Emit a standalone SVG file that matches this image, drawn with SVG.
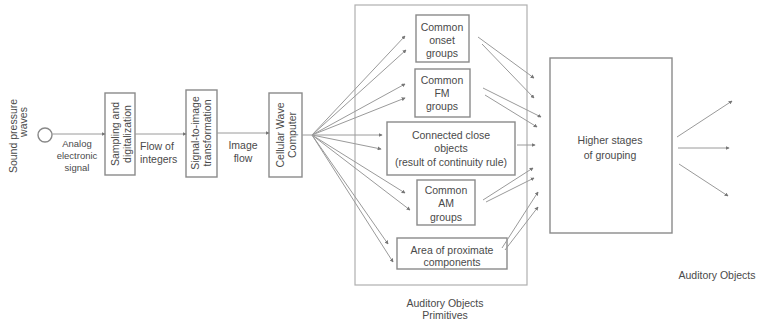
<svg xmlns="http://www.w3.org/2000/svg" width="758" height="324" viewBox="0 0 758 324">
<style>
.box{fill:#fff;stroke:#8a8a8a;stroke-width:1.4}
.frame{fill:none;stroke:#b0b0b0;stroke-width:1.2}
.ln{stroke:#9a9a9a;stroke-width:1;fill:none;marker-end:url(#ah)}
.t{font-family:"Liberation Sans",Arial,sans-serif;font-size:10.5px;fill:#4a4a4a;text-anchor:middle}
.ts{font-size:9.5px}
.tl{text-anchor:start}
</style>
<defs>
<marker id="ah" viewBox="0 0 6 6" refX="5" refY="3" markerWidth="4" markerHeight="4" orient="auto" markerUnits="userSpaceOnUse">
<path d="M0,0 L6,3 L0,6 z" fill="#777"/>
</marker>
</defs>
<rect width="758" height="324" fill="#fff"/>

<g id="sound-label">
<text class="t" transform="translate(17,136) rotate(-90)">Sound pressure</text>
<text class="t" transform="translate(27,122) rotate(-90)">waves</text>
</g>
<g id="source">
<circle cx="45" cy="135" r="7" fill="#fff" stroke="#888" stroke-width="1.4"/>
</g>
<g id="analog-label">
<text class="t ts" x="77" y="146.5">Analog</text>
<text class="t ts" x="77" y="158.5">electronic</text>
<text class="t ts" x="77" y="170.5">signal</text>
</g>
<g id="sampling">
<rect class="box" x="105" y="93" width="30" height="82"/>
<text class="t" transform="translate(119,134) rotate(-90)">Sampling and</text>
<text class="t" transform="translate(131,134) rotate(-90)">digitalization</text>
</g>
<g id="flow-label">
<text class="t tl" x="140" y="150">Flow of</text>
<text class="t tl" x="140" y="163">integers</text>
</g>
<g id="signal-to-image">
<rect class="box" x="186" y="90" width="31" height="87"/>
<text class="t" transform="translate(199,133) rotate(-90)">Signal-to-image</text>
<text class="t" transform="translate(211,133) rotate(-90)">transformation</text>
</g>
<g id="image-flow-label">
<text class="t" x="243" y="149">Image</text>
<text class="t" x="243" y="162">flow</text>
</g>
<g id="cwc">
<rect class="box" x="269" y="93" width="33" height="84"/>
<text class="t" transform="translate(284,135) rotate(-90)">Cellular Wave</text>
<text class="t" transform="translate(296,135) rotate(-90)">Computer</text>
</g>

<g id="primitives">
<rect class="frame" x="355" y="5" width="172" height="280"/>
<text class="t" x="445" y="307">Auditory Objects</text>
<text class="t" x="445" y="319">Primitives</text>
</g>
<g id="onset">
<rect class="box" x="416" y="15" width="53" height="47"/>
<text class="t" x="442" y="31">Common</text>
<text class="t" x="442" y="44">onset</text>
<text class="t" x="442" y="57">groups</text>
</g>
<g id="fm">
<rect class="box" x="415" y="69" width="55" height="48"/>
<text class="t" x="442" y="84">Common</text>
<text class="t" x="442" y="97">FM</text>
<text class="t" x="442" y="110">groups</text>
</g>
<g id="connected">
<rect class="box" x="387" y="122" width="128" height="53"/>
<text class="t" x="451" y="139">Connected close</text>
<text class="t" x="451" y="152">objects</text>
<text class="t" x="451" y="166">(result of continuity rule)</text>
</g>
<g id="am">
<rect class="box" x="417" y="180" width="58" height="45"/>
<text class="t" x="446" y="194">Common</text>
<text class="t" x="446" y="207">AM</text>
<text class="t" x="446" y="221">groups</text>
</g>
<g id="area">
<rect class="box" x="397" y="238" width="110" height="31"/>
<text class="t" x="452" y="254">Area of proximate</text>
<text class="t" x="452" y="266">components</text>
</g>

<g id="higher">
<rect class="box" x="550" y="58" width="122" height="175"/>
<text class="t" x="610" y="144">Higher stages</text>
<text class="t" x="610" y="159">of grouping</text>
</g>
<g id="output-label">
<text class="t" x="717" y="279">Auditory Objects</text>
</g>

<g id="connectors">
<line class="ln" x1="52" y1="134" x2="105" y2="134"/>
<line class="ln" x1="135" y1="134" x2="186" y2="134"/>
<line class="ln" x1="217" y1="133" x2="269" y2="133"/>
<line x1="302" y1="135" x2="312" y2="135" stroke="#9a9a9a" stroke-width="1"/>
<line class="ln" x1="312" y1="135" x2="405" y2="36"/>
<line class="ln" x1="312" y1="135" x2="406" y2="50"/>
<line class="ln" x1="312" y1="135" x2="405" y2="84"/>
<line class="ln" x1="312" y1="135" x2="405" y2="98"/>
<line class="ln" x1="312" y1="135" x2="382" y2="135"/>
<line class="ln" x1="312" y1="135" x2="381" y2="149"/>
<line class="ln" x1="312" y1="135" x2="405" y2="193"/>
<line class="ln" x1="312" y1="135" x2="410" y2="210"/>
<line class="ln" x1="312" y1="135" x2="388" y2="244"/>
<line class="ln" x1="312" y1="135" x2="393" y2="262"/>
<line class="ln" x1="478" y1="37" x2="534" y2="78"/>
<line class="ln" x1="482" y1="44" x2="534" y2="98"/>
<line class="ln" x1="483" y1="88" x2="541" y2="117"/>
<line class="ln" x1="485" y1="95" x2="537" y2="127"/>
<line class="ln" x1="517" y1="145" x2="535" y2="145"/>
<line class="ln" x1="483" y1="200" x2="533" y2="168"/>
<line class="ln" x1="486" y1="202" x2="534" y2="178"/>
<line class="ln" x1="502" y1="248" x2="538" y2="192"/>
<line class="ln" x1="505" y1="250" x2="538" y2="207"/>
<line class="ln" x1="677" y1="137" x2="732" y2="101"/>
<line class="ln" x1="678" y1="148" x2="729" y2="148"/>
<line class="ln" x1="679" y1="164" x2="728" y2="196"/>
</g>
</svg>
